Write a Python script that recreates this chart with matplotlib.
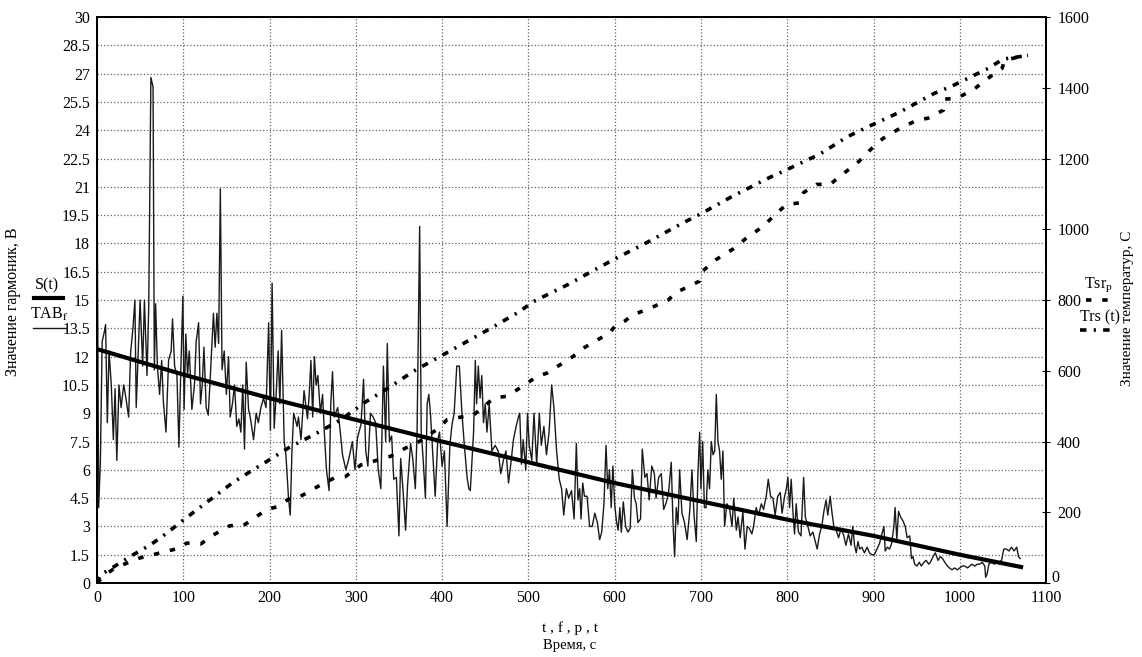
"""Harmonic amplitude and temperature vs time (Mathcad-style chart)."""

import matplotlib
matplotlib.use('Agg')
import matplotlib.pyplot as plt
import matplotlib.transforms as mtransforms
from matplotlib.lines import Line2D

tab_t = [0, 2, 4, 6, 8.5, 10, 12, 14, 16.6, 19, 21, 23, 25.5, 28, 31, 33.6, 36.7, 39,
         41.7, 44, 45.5, 48, 50, 53, 55, 58, 60, 62.5, 65, 66.5, 68, 70, 72.6, 75, 77,
         80, 83, 86, 87.6, 90, 92.7, 95, 97, 99.6, 101, 103, 105, 107, 110, 113, 115,
         117.8, 120, 122, 124, 126.6, 129, 132, 135, 137, 139, 141, 143, 145, 147.5,
         150, 152.5, 154.4, 157, 159.5, 162, 164.5, 166.8, 169, 171, 173, 175.7, 178,
         181.5, 184.5, 187, 190, 193, 196, 199, 201, 203, 205.4, 207.7, 210, 212, 214,
         217, 219, 222, 224, 226, 228, 232, 233.5, 236.5, 240, 244, 246, 248, 250, 252,
         254, 256, 259, 261.5, 263.5, 266, 269, 271, 273, 275, 279, 282, 284.6, 288.5,
         292, 296, 299, 302, 306, 309, 311.5, 314, 317, 320, 323, 326, 329, 332, 334.6,
         336.5, 339, 341.5, 344, 347, 350, 352, 354.6, 357.7, 360, 363.5, 366, 369, 371,
         374, 375.8, 378, 380.7, 382.7, 384.6, 386.5, 389.6, 392, 395, 397, 400, 402.7,
         405.8, 409, 411.5, 414, 417, 420, 423, 425.8, 429, 431, 432.7, 434.6, 436.5,
         438.5, 440, 442, 444, 446, 448, 450, 452, 454.6, 457.7, 461.5, 465, 468, 471,
         474, 477, 479.6, 482.7, 485.8, 488.5, 490, 492, 494, 497, 499, 501, 504, 506.5,
         509.6, 512.7, 515, 518, 521, 524, 527, 529.6, 532.7, 535.8, 538.5, 541, 544,
         546.7, 550, 553, 555.6, 557.5, 559.5, 561, 563, 565, 568, 571, 574, 577, 580,
         582.6, 585, 587.6, 590, 592, 594, 596, 598, 600, 602, 604, 606, 607.7, 610,
         612.7, 615.4, 618, 620.5, 623, 625, 627, 630, 632, 635, 637.5, 640, 643, 646,
         648, 651, 654, 656.8, 660, 662.5, 665.6, 667.6, 669.5, 671.4, 673.4, 675.3, 678,
         681, 684, 687, 689.6, 692, 694.6, 696.5, 698.5, 700, 702, 704, 706, 708, 710,
         712, 714, 716, 717.8, 719.7, 721.6, 723.5, 725.5, 727.4, 730, 733, 736, 738,
         741, 743, 745.5, 748.6, 751, 753.6, 756, 759, 761, 764, 766.8, 770, 772.6,
         775.7, 778, 780.7, 783.4, 786, 789, 792, 794, 797, 799, 800.8, 802.7, 804.6,
         806.6, 808.5, 810.4, 813, 816, 819, 821, 824, 826.6, 829.7, 832, 834.7, 837.5,
         840, 842.5, 845, 847, 849.8, 851.7, 854, 856.8, 859.5, 862.5, 865.6, 868, 871,
         874, 876, 878, 880, 882, 884, 886.4, 889.5, 892.6, 895.3, 898, 901, 904, 907,
         909.7, 912, 913.6, 916, 918.6, 921, 923.6, 925, 927, 929, 931.4, 934, 936.8,
         939, 942, 944, 945.7, 947.7, 950.4, 953, 955.4, 958.5, 961, 964, 966, 969,
         971.7, 974.8, 977.5, 980, 982.6, 985.7, 988, 991, 994, 997, 1000, 1002.7,
         1005.8, 1009, 1011.6, 1014, 1017.4, 1020.5, 1023, 1026, 1029, 1030, 1031.8,
         1033.7, 1036.8, 1040, 1042.6, 1045, 1048.4, 1051, 1054, 1057, 1060, 1062.8,
         1066, 1068, 1070]
tab_v = [22.0, 4.0, 6.5, 12.8, 13.3, 13.7, 8.5, 12.3, 10.5, 7.6, 10.3, 6.5, 10.5, 9.3,
         10.5, 9.8, 8.8, 12.2, 13.5, 15.0, 9.3, 12.5, 15.0, 11.5, 15.0, 11.0, 14.6, 26.8,
         26.3, 11.3, 14.8, 11.5, 10.0, 11.8, 9.6, 8.0, 11.8, 12.3, 14.0, 11.5, 11.0, 7.2,
         11.0, 15.2, 9.2, 13.2, 11.0, 12.3, 9.2, 10.5, 12.8, 13.8, 9.5, 10.5, 12.5, 9.3,
         8.9, 11.5, 14.3, 12.5, 14.3, 12.7, 20.9, 11.3, 12.3, 10.0, 12.0, 8.8, 9.5, 10.5,
         8.3, 8.7, 8.0, 10.5, 7.1, 11.7, 9.2, 8.7, 7.6, 9.0, 8.5, 9.3, 9.8, 9.3, 13.8,
         8.1, 15.9, 8.2, 10.0, 12.3, 9.5, 13.4, 7.5, 6.8, 4.5, 3.6, 7.0, 9.0, 8.3, 8.8,
         7.6, 10.2, 8.7, 10.0, 11.8, 8.8, 12.0, 10.5, 11.0, 9.0, 10.0, 8.0, 6.0, 4.9,
         9.5, 11.2, 8.8, 9.3, 8.0, 6.8, 6.0, 6.6, 7.5, 6.0, 7.7, 8.4, 10.8, 7.0, 6.2,
         9.0, 8.8, 8.5, 6.0, 5.0, 11.5, 7.5, 12.7, 7.5, 7.8, 5.5, 5.6, 2.5, 6.6, 5.0,
         2.8, 5.2, 7.4, 6.6, 5.0, 8.0, 18.9, 8.0, 6.6, 4.5, 9.5, 10.0, 9.0, 6.5, 4.6,
         7.6, 8.0, 6.2, 7.0, 3.0, 7.3, 8.4, 9.0, 11.5, 11.5, 9.0, 7.3, 5.6, 5.0, 4.9,
         6.5, 8.0, 11.8, 9.5, 11.5, 9.8, 11.0, 8.5, 9.5, 8.0, 9.5, 7.0, 7.3, 7.0, 5.8,
         6.5, 7.0, 5.3, 6.3, 7.6, 8.3, 8.8, 9.0, 6.3, 7.6, 6.0, 9.0, 7.3, 6.5, 9.0, 6.3,
         9.0, 7.3, 8.3, 6.8, 8.0, 10.5, 9.3, 7.0, 5.5, 5.0, 3.6, 5.0, 4.5, 4.9, 3.4, 7.4,
         4.4, 5.0, 3.4, 5.3, 4.6, 4.6, 3.0, 3.0, 3.7, 3.2, 2.3, 2.7, 4.2, 7.3, 5.0, 6.0,
         4.0, 6.2, 4.2, 3.3, 2.8, 4.0, 2.7, 4.3, 3.0, 2.7, 2.9, 6.0, 4.5, 4.2, 3.2, 3.4,
         7.1, 5.6, 5.8, 4.4, 6.2, 5.8, 4.5, 5.6, 5.8, 3.9, 4.3, 4.8, 6.4, 3.2, 1.4, 4.0,
         3.1, 6.0, 3.7, 3.2, 2.3, 3.8, 6.0, 3.6, 2.2, 5.8, 8.0, 5.0, 7.5, 4.0, 4.0, 6.0,
         5.0, 7.5, 6.8, 7.0, 10.0, 7.5, 7.0, 5.5, 7.0, 3.0, 4.2, 4.0, 3.0, 4.5, 2.8, 3.5,
         2.4, 3.8, 1.8, 3.0, 2.9, 2.6, 3.0, 4.0, 3.6, 4.2, 3.9, 4.6, 5.5, 4.6, 4.5, 3.6,
         4.6, 4.8, 3.7, 4.6, 5.0, 5.6, 4.0, 5.5, 3.8, 2.6, 4.2, 2.7, 2.5, 5.6, 3.5, 3.0,
         2.5, 2.7, 2.3, 1.8, 2.6, 3.0, 3.8, 4.4, 3.6, 4.6, 3.8, 3.0, 2.8, 2.4, 2.9, 2.5,
         2.0, 2.6, 2.0, 3.0, 2.0, 1.6, 2.2, 1.8, 1.9, 1.6, 1.9, 1.6, 1.5, 1.5, 1.8, 2.1,
         2.6, 3.0, 1.7, 1.9, 1.8, 2.1, 3.0, 4.0, 2.3, 3.8, 3.5, 3.3, 3.0, 2.4, 2.5, 1.3,
         1.4, 1.0, 0.9, 1.1, 0.9, 1.1, 1.2, 1.0, 1.1, 1.4, 1.6, 1.2, 1.4, 1.3, 1.1, 0.9,
         0.8, 0.7, 0.8, 0.7, 0.8, 0.9, 0.9, 0.8, 0.9, 1.0, 0.9, 1.0, 1.0, 1.1, 0.9, 0.3,
         0.5, 1.0, 1.1, 1.0, 1.1, 1.1, 1.2, 1.8, 1.8, 1.7, 1.9, 1.7, 1.9, 1.4, 1.3]

# --- S(t) : approximating curve, V ---
s_t = [0, 100, 200, 300, 400, 500, 600, 700, 800, 900, 1000, 1071]
s_v = [12.4, 11.05, 9.8, 8.65, 7.5, 6.4, 5.3, 4.33, 3.36, 2.5, 1.5, 0.85]

# --- Tsr_p : temperature, C (right axis) ---
tsr_t = [0, 10, 23, 50, 73, 96, 104, 120, 135, 154, 170, 185, 197, 208, 224, 236, 256,
         275, 288, 306, 340, 358, 371, 394, 406, 437, 460, 475, 490, 510, 521, 540, 552,
         561, 577, 594, 600, 612, 620, 642, 662, 671, 698, 702, 718, 737, 753, 772, 784,
         799, 815, 819, 834, 850, 861, 881, 896, 911, 931, 951, 963, 981, 983, 997, 1008,
         1016, 1031, 1049, 1052, 1066, 1079]
tsr_v = [0, 25, 45, 71, 85, 99, 113, 110, 136, 162, 163, 188, 208, 215, 240, 245, 273,
         297, 301, 334, 358, 382, 396, 434, 462, 476, 523, 528, 551, 584, 593, 622, 641,
         660, 683, 707, 725, 741, 757, 778, 800, 821, 853, 882, 915, 944, 976, 1008, 1037,
         1070, 1075, 1104, 1127, 1127, 1150, 1187, 1224, 1257, 1286, 1309, 1314, 1337,
         1368, 1371, 1385, 1395, 1424, 1455, 1478, 1486, 1492]

# --- Trs(t) : temperature, C (right axis) ---
trs_t = [0, 4, 19, 42, 62, 81, 98.5, 120, 139, 158, 181, 201, 224, 252, 283, 310, 340,
         367, 398, 429, 460, 490, 506, 546, 581, 600, 640, 679, 700, 737, 780, 799, 838,
         870, 892, 931, 952, 971, 991, 1012, 1033, 1050, 1080]
trs_v = [0, 23, 45, 80, 108, 141, 175, 215, 250, 285, 320, 350, 385, 420, 462, 510, 555,
         599, 641, 683, 725, 768, 796, 844, 891, 916, 966, 1018, 1044, 1094, 1147, 1168,
         1213, 1262, 1288, 1332, 1360, 1385, 1405, 1430, 1455, 1481, 1492]

x_ticks = list(range(0, 1101, 100))
y_ticks = [i * 1.5 for i in range(21)]
y_labels = ['%g' % v for v in y_ticks]
y2_ticks = list(range(0, 1601, 200))

plt.rcParams.update({
    'font.family': 'serif',
    'font.serif': ['Liberation Serif', 'DejaVu Serif'],
    'mathtext.fontset': 'stix',
    'font.size': 11.5,
})

fig = plt.figure(figsize=(11.42, 6.57), dpi=100)
ax = fig.add_axes([0.0849, 0.1126, 0.8311, 0.8614])
ax2 = ax.twinx()

ax.plot(tab_t, tab_v, color='#1a1a1a', linewidth=1.0)
ax.plot(s_t, s_v, color='black', linewidth=3.0)
ax2.plot(tsr_t, tsr_v, color='black', linewidth=2.6, linestyle=(0, (1.5, 3)))
ax2.plot(trs_t, trs_v, color='black', linewidth=2.6, linestyle=(0, (1.8, 2.0, 0.6, 2.0)))

ax.set_xlim(0, 1100)
ax.set_ylim(0, 30)
ax2.set_ylim(0, 1600)
ax.set_xticks(x_ticks)
ax.set_yticks(y_ticks)
ax.set_yticklabels(y_labels)
ax2.set_yticks(y2_ticks)

ax.grid(True, linestyle=':', color='#666666', linewidth=0.9)
ax.tick_params(axis='both', length=0, pad=5)
ax2.tick_params(axis='y', length=6, direction='inout', pad=5)
for a in (ax, ax2):
    for s in a.spines.values():
        s.set_linewidth(1.4)

# right-axis "0" sits just above the "1100" x label, as in the original
zero_lbl = ax2.get_yticklabels()[0]
zero_lbl.set_transform(zero_lbl.get_transform() +
                       mtransforms.ScaledTranslation(-4 / 72, 5 / 72, fig.dpi_scale_trans))

# axis titles
fig.text(0.011, 0.54, 'Значение гармоник, В', rotation=90, va='center', ha='center', fontsize=11.5)
fig.text(0.987, 0.53, 'Значение температур, С', rotation=90, va='center', ha='center', fontsize=11)
fig.text(0.499, 0.044, 't , f , p , t', ha='center', va='center', fontsize=11)
fig.text(0.499, 0.018, 'Время, с', ha='center', va='center', fontsize=10.5)

# left legend
fig.text(0.041, 0.566, 'S(t)', ha='center', va='center', fontsize=11.5)
fig.add_artist(Line2D([0.030, 0.055], [0.546, 0.546], color='black', linewidth=3.0))
fig.text(0.043, 0.521, 'TAB$_\\mathrm{f}$', ha='center', va='center', fontsize=11.5)
fig.add_artist(Line2D([0.029, 0.058], [0.501, 0.501], color='#1a1a1a', linewidth=1.0))

# right legend
fig.text(0.962, 0.566, 'Tsr$_\\mathrm{p}$', ha='center', va='center', fontsize=11.5)
fig.add_artist(Line2D([0.951, 0.971], [0.543, 0.543], color='black', linewidth=2.6,
                      linestyle=(0, (1.5, 3))))
fig.text(0.963, 0.517, 'Trs (t)', ha='center', va='center', fontsize=11.5)
fig.add_artist(Line2D([0.946, 0.972], [0.498, 0.498], color='black', linewidth=2.6,
                      linestyle=(0, (1.8, 2.0, 0.6, 2.0))))

fig.savefig('out.png', dpi=100)
